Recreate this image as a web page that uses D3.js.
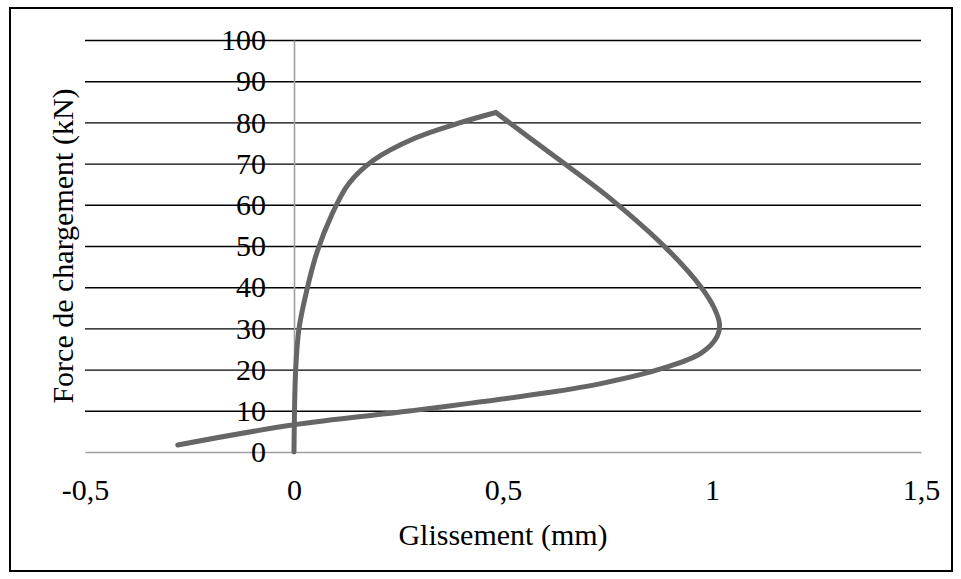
<!DOCTYPE html>
<html>
<head>
<meta charset="utf-8">
<script src="https://cdn.jsdelivr.net/npm/d3@7"></script>
<style>
  html, body { margin: 0; padding: 0; background: #fff; }
  svg { display: block; }
  svg text { font-family: "Liberation Serif", "Times New Roman", Times, serif !important; fill: #000; }
</style>
</head>
<body>
<svg id="chart" width="961" height="579"></svg>
<script>
// ---- Data ----
const glissement = [0, 0.004, 0.012, 0.03, 0.055, 0.09, 0.13, 0.19, 0.29, 0.39, 0.483,
                    0.62, 0.746, 0.895, 0.974, 1.005, 1.018, 1.012, 0.974, 0.885, 0.734, 0.6, 0.28, 0, -0.278];
const force      = [0, 20, 30, 39, 48.5, 57.5, 65, 70.8, 76.2, 79.7, 82.4,
                    72, 62.4, 49, 40, 35, 31, 28, 24, 20.4, 16.6, 14.3, 10, 6.6, 1.7];
const xTicks = [-0.5, 0, 0.5, 1, 1.5];
const yTicks = [0, 10, 20, 30, 40, 50, 60, 70, 80, 90, 100];
const xTitle = "Glissement (mm)";
const yTitle = "Force de chargement (kN)";

// ---- Layout ----
const svg = d3.select("#chart");
const plot = { left: 85, right: 921, top: 40, bottom: 452 };
const FONT = 30;
const SERIF = '"Liberation Serif", "Times New Roman", Times, serif';

const x = d3.scaleLinear().domain([-0.5, 1.5]).range([plot.left, plot.right]);
const y = d3.scaleLinear().domain([0, 100]).range([plot.bottom, plot.top]);

const locale = d3.formatLocale({ decimal: ",", thousands: " ", grouping: [3], currency: ["", ""], minus: "-" });
const fmt = locale.format("~g");

// outer border
svg.append("rect")
  .attr("x", 10).attr("y", 8).attr("width", 942).attr("height", 563)
  .attr("fill", "none").attr("stroke", "#000").attr("stroke-width", 2);

// horizontal gridlines
const grid = d3.axisLeft(y).tickValues(yTicks.filter(d => d !== 0))
  .tickSize(-(plot.right - plot.left)).tickFormat("");
svg.append("g")
  .attr("transform", `translate(${plot.left},0)`)
  .call(grid)
  .call(g => g.select(".domain").remove())
  .call(g => g.selectAll(".tick line").attr("stroke", "#000").attr("stroke-width", 1.4));

// horizontal axis (y = 0)
const xAxis = d3.axisBottom(x).tickValues(xTicks).tickFormat(fmt).tickSize(0).tickPadding(27);
svg.append("g")
  .attr("transform", `translate(0,${y(0)})`)
  .call(xAxis)
  .attr("font-family", SERIF).attr("font-size", FONT)
  .call(g => g.select(".domain").attr("stroke", "#a0a0a0").attr("stroke-width", 1.6))
  .call(g => g.selectAll(".tick text").attr("font-family", SERIF).attr("font-size", FONT));

// vertical axis (x = 0)
const yAxis = d3.axisLeft(y).tickValues(yTicks).tickFormat(fmt).tickSize(0).tickPadding(28);
svg.append("g")
  .attr("transform", `translate(${x(0)},0)`)
  .call(yAxis)
  .attr("font-family", SERIF).attr("font-size", FONT)
  .call(g => g.select(".domain").attr("stroke", "#a0a0a0").attr("stroke-width", 1.6))
  .call(g => g.selectAll(".tick text").attr("font-family", SERIF).attr("font-size", FONT));

// data curve (smoothed, split at the peak which is a sharp corner)
const pts = glissement.map((g, i) => [g, force[i]]);
const iPeak = d3.maxIndex(force);
const line = d3.line()
  .x(d => x(d[0])).y(d => y(d[1]))
  .curve(d3.curveCatmullRom.alpha(0.5));
const pathD = [pts.slice(0, iPeak + 1), pts.slice(iPeak)].map(p => line(p)).join("");
svg.append("path")
  .attr("d", pathD)
  .attr("fill", "none")
  .attr("stroke", "#666666")
  .attr("stroke-width", 5)
  .attr("stroke-linecap", "round")
  .attr("stroke-linejoin", "miter");

// axis titles
svg.append("text")
  .attr("x", (plot.left + plot.right) / 2).attr("y", 545)
  .attr("text-anchor", "middle").attr("font-size", FONT)
  .attr("font-family", SERIF)
  .text(xTitle);

svg.append("text")
  .attr("transform", `translate(73,${(plot.top + plot.bottom) / 2}) rotate(-90)`)
  .attr("text-anchor", "middle").attr("font-size", FONT)
  .attr("font-family", SERIF)
  .text(yTitle);
</script>
</body>
</html>
